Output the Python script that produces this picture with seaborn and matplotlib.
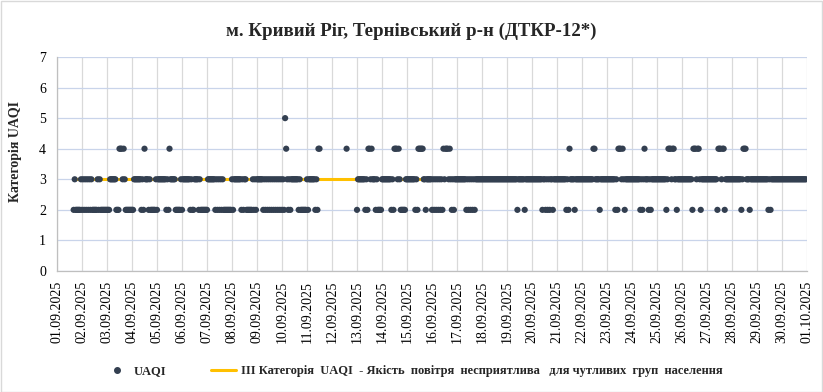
import matplotlib
matplotlib.use("Agg")
import matplotlib.pyplot as plt
import matplotlib.dates as mdates
from matplotlib.lines import Line2D
from matplotlib.patches import Rectangle
import pandas as pd
import seaborn as sns

# hourly UAQI category, one string per day (01.09 ... 30.09), "." = no data
uaqi_days = [
    "................23222223",  # 01.09
    "232323232322222323222222",
    "222333333222444343222222",
    "223333333232433323222223",
    "233333333232433333222223",  # 05.09
    "233333332322333323222222",
    "233333332323232322222222",
    "323333333232332222223232",
    "333333232323232323232323",
    "232543232333333323222222",  # 10.09
    "3233333323244...........",
    "..............4.........",
    "233333332324434333232222",
    "333333333232444343222223",
    "333333332324444433233333",  # 15.09
    "232323232324344434323233",
    "333333333232323232333333",
    "333333333333333333333333",
    "333333333323333332333333",
    "333333333323323232332333",  # 20.09
    "333333333232433332333333",
    "333333333334433332333333",
    "333333332324443432333333",
    "333333332323433323233333",
    "333333333234443443323333",  # 25.09
    "333333333324443443233333",
    "333333333324443442333333",
    "333333333234443332333333",
    "333333333332323333333333",
    "333333333333333333333333",  # 30.09
]

month_start = "2025-09-01"
month_end = "2025-10-01"
category3_level = 3

title = "м. Кривий Ріг, Тернівський р-н (ДТКР-12*)"
y_label = "Категорія UAQI"
series_label = "UAQI"
category3_label = "ІІІ Категорія  UAQI  - Якість  повітря  несприятлива   для чутливих  груп  населення"

dot_color = "#333F50"
line_color = "#FFC000"


rows = []
for d, day in enumerate(uaqi_days):
    for h, c in enumerate(day):
        if c != ".":
            t = pd.Timestamp(month_start) + pd.Timedelta(days=d, hours=h)
            rows.append((t, int(c)))
df = pd.DataFrame(rows, columns=["time", "uaqi"])


sns.set_theme(style="white")
plt.rcParams["font.family"] = ["Liberation Serif", "DejaVu Serif"]

W, H = 823, 392
fig = plt.figure(figsize=(W / 100, H / 100), dpi=100)
ax = fig.add_axes([57 / W, 1 - 271 / H, 750 / W, 214 / H])

ax.hlines(category3_level, df["time"].min(), df["time"].max(),
          color=line_color, lw=2.2, zorder=2)
sns.scatterplot(data=df, x="time", y="uaqi", color=dot_color, s=20,
                edgecolor="none", linewidth=0, ax=ax, zorder=3, legend=False)

ax.set_xlim(pd.Timestamp(month_start), pd.Timestamp(month_end))
ax.set_ylim(0, 7)
ax.set_yticks(range(0, 8))
ax.xaxis.set_major_locator(mdates.DayLocator())
ax.xaxis.set_major_formatter(mdates.DateFormatter("%d.%m.%Y"))
plt.setp(ax.get_xticklabels(), rotation=90)

ax.grid(axis="x", color="#D9D9D9", lw=0.9)
ax.grid(axis="y", color="#C9D4EA", lw=0.9)
ax.set_axisbelow(True)
for side in ["top", "right"]:
    ax.spines[side].set_visible(False)
for side in ["left", "bottom"]:
    ax.spines[side].set_color("#BFBFBF")
    ax.spines[side].set_linewidth(0.9)
ax.tick_params(axis="x", length=0, labelsize=10, pad=7, colors="black")
ax.tick_params(axis="y", length=0, labelsize=10, pad=8, colors="black")

ax.set_xlabel("")
ax.set_ylabel(y_label, fontsize=10, fontweight="bold")
ax.yaxis.set_label_coords(-0.047, 0.56)

fig.text(0.5, 1 - 31 / H, title, ha="center", va="center",
         fontsize=13.6, fontweight="bold")

handles = [
    Line2D([], [], marker="o", ls="none", color=dot_color, markersize=4),
    Line2D([], [], color=line_color, lw=2.2),
]
fig.legend(handles, [series_label, category3_label], loc="center",
           bbox_to_anchor=(0.502, 1 - 371 / H), ncol=2, frameon=False,
           prop={"weight": "bold", "size": 9}, handlelength=2,
           handletextpad=0.4, columnspacing=3.5)

fig.add_artist(Rectangle((0.001, 0.001), 0.998, 0.997, transform=fig.transFigure,
                         fill=False, edgecolor="#D9D9D9", lw=1))

fig.savefig("out.png", dpi=100)
